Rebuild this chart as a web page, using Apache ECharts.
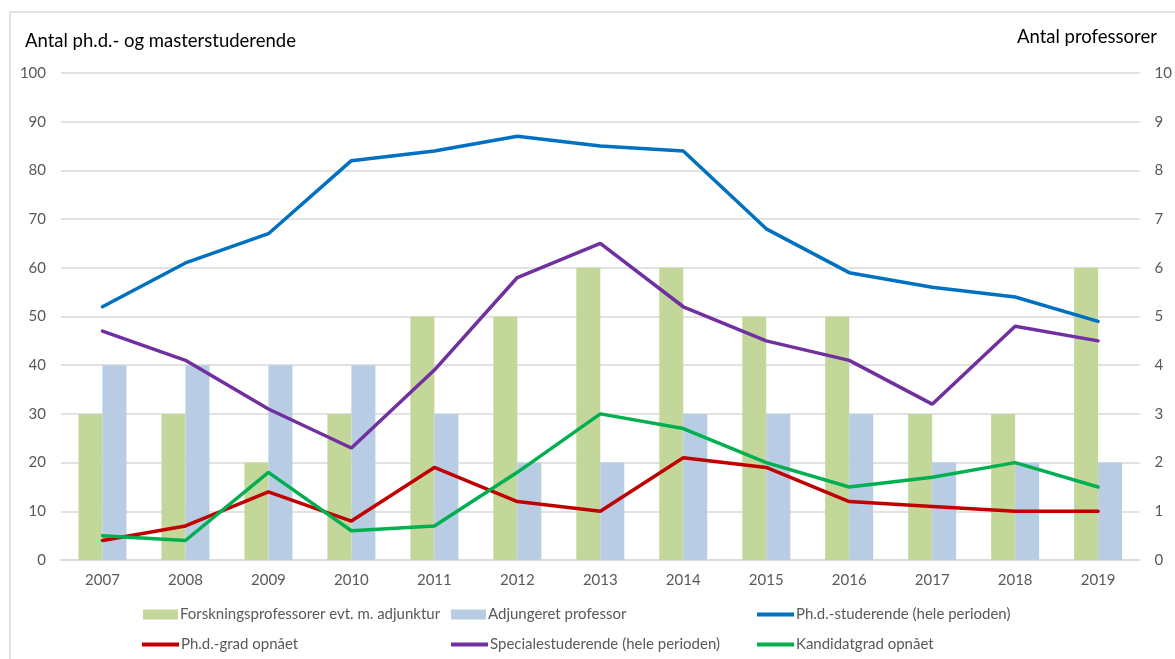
<!DOCTYPE html>
<html>
<head>
<meta charset="utf-8">
<script src="https://cdn.jsdelivr.net/npm/echarts@6/dist/echarts.min.js"></script>
<style>
  html, body { margin: 0; padding: 0; background: #fff; }
  #chart { width: 1175px; height: 659px; }
</style>
</head>
<body>
<div id="chart"></div>
<script>
// år
const years = ['2007', '2008', '2009', '2010', '2011', '2012', '2013', '2014', '2015', '2016', '2017', '2018', '2019'];

// professorer (højre akse)
const forskningsprof = [3, 3, 2, 3, 5, 5, 6, 6, 5, 5, 3, 3, 6];
const adjungeret = [4, 4, 4, 4, 3, 2, 2, 3, 3, 3, 2, 2, 2];

// studerende (venstre akse)
const phdStuderende = [52, 61, 67, 82, 84, 87, 85, 84, 68, 59, 56, 54, 49];
const phdGrad = [4, 7, 14, 8, 19, 12, 10, 21, 19, 12, 11, 10, 10];
const specialeStuderende = [47, 41, 31, 23, 39, 58, 65, 52, 45, 41, 32, 48, 45];
const kandidatGrad = [5, 4, 18, 6, 7, 18, 30, 27, 20, 15, 17, 20, 15];

const chart = echarts.init(document.getElementById('chart'));

const font = 'Lato, "Open Sans", sans-serif';
const gray = '#595959';

function legendAt(name, left, top, isLine) {
  return {
    data: [name],
    left: left,
    top: top,
    icon: 'rect',
    itemWidth: isLine ? 37 : 35,
    itemHeight: isLine ? 4 : 10,
    itemGap: 4,
    padding: 0,
    selectedMode: false,
    textStyle: { color: gray, fontSize: 15, fontFamily: font, padding: [0, 0, 0, -3] }
  };
}

const lineSeries = (name, data, color) => ({
  name: name,
  type: 'line',
  yAxisIndex: 0,
  data: data,
  showSymbol: false,
  symbol: 'none',
  lineStyle: { color: color, width: 3.5, cap: 'round' },
  itemStyle: { color: color },
  z: 3
});

const option = {
  animation: false,
  textStyle: { fontFamily: font },
  graphic: [
    {
      type: 'rect',
      shape: { x: 10, y: 12, width: 1180, height: 660 },
      style: { fill: 'none', stroke: '#D9D9D9', lineWidth: 1.5 }
    },
    {
      type: 'text',
      left: 25, top: 32,
      style: { text: 'Antal ph.d.- og masterstuderende', fill: '#000', fontSize: 18.5, fontFamily: font }
    },
    {
      type: 'text',
      left: 1017, top: 28,
      style: { text: 'Antal professorer', fill: '#000', fontSize: 18.5, fontFamily: font }
    }
  ],
  legend: [
    legendAt('Forskningsprofessorer evt. m. adjunktur', 143, 607, false),
    legendAt('Adjungeret professor', 451, 607, false),
    legendAt('Ph.d.-studerende (hele perioden)', 757, 607, true),
    legendAt('Ph.d.-grad opnået', 142, 637, true),
    legendAt('Specialestuderende (hele perioden)', 451, 637, true),
    legendAt('Kandidatgrad opnået', 757, 637, true)
  ],
  grid: { left: 61, right: 30, top: 73, bottom: 99 },
  xAxis: {
    type: 'category',
    data: years,
    axisTick: { show: false },
    axisLine: { lineStyle: { color: '#D9D9D9', width: 1.5 } },
    axisLabel: { color: gray, fontSize: 15, fontFamily: font, margin: 13 }
  },
  yAxis: [
    {
      type: 'value',
      min: 0, max: 100, interval: 10,
      axisLine: { show: false },
      axisTick: { show: false },
      splitLine: { lineStyle: { color: '#D9D9D9', width: 1.5 } },
      axisLabel: { color: gray, fontSize: 15, fontFamily: font, margin: 15 }
    },
    {
      type: 'value',
      min: 0, max: 10, interval: 1,
      position: 'right',
      axisLine: { show: false },
      axisTick: { show: false },
      splitLine: { show: false },
      axisLabel: { color: gray, fontSize: 15, fontFamily: font, margin: 15 }
    }
  ],
  series: [
    {
      name: 'Forskningsprofessorer evt. m. adjunktur',
      type: 'bar',
      yAxisIndex: 1,
      data: forskningsprof,
      barWidth: 24,
      barGap: '0%',
      itemStyle: { color: '#C4D79B' },
      z: 1
    },
    {
      name: 'Adjungeret professor',
      type: 'bar',
      yAxisIndex: 1,
      data: adjungeret,
      barWidth: 24,
      barGap: '0%',
      itemStyle: { color: '#B8CCE4' },
      z: 1
    },
    lineSeries('Ph.d.-studerende (hele perioden)', phdStuderende, '#0070C0'),
    lineSeries('Ph.d.-grad opnået', phdGrad, '#C00000'),
    lineSeries('Specialestuderende (hele perioden)', specialeStuderende, '#7030A0'),
    lineSeries('Kandidatgrad opnået', kandidatGrad, '#00B050')
  ]
};

chart.setOption(option);
</script>
</body>
</html>
